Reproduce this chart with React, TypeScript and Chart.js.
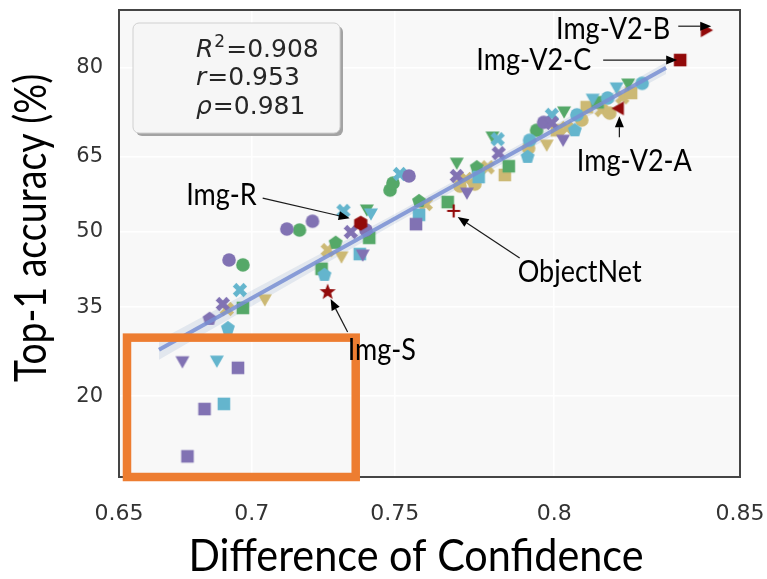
import React, { useEffect, useRef } from 'react';
import { Chart, LinearScale, registerables } from 'chart.js';

// ---------------- data ----------------
type Marker = 'circle' | 'square' | 'triDown' | 'x' | 'pentagon' | 'hexagon' | 'star' | 'plus' | 'triLeft' | 'triRight';
type Pt = [number, number, Marker];

const xTicks = [0.65, 0.7, 0.75, 0.8, 0.85];
const xTickLabels = ['0.65', '0.7', '0.75', '0.8', '0.85'];
const yTicks = [20, 35, 50, 65, 80];
const yTickLabels = ['20', '35', '50', '65', '80'];
const xRange = [0.65, 0.85];
const yRange = [10.45, 87.25];

// [difference of confidence, top-1 accuracy %, marker]
const purplePoints: Pt[] = [
  [0.6845, 32.8, 'pentagon'], [0.6894, 35.6, 'x'], [0.6917, 44.3, 'circle'],
  [0.6743, 25.3, 'triDown'], [0.695, 24.3, 'square'], [0.6826, 18.2, 'square'],
  [0.6762, 12.5, 'square'], [0.7127, 50.6, 'circle'], [0.7218, 52.2, 'circle'],
  [0.7351, 50.0, 'x'], [0.7403, 50.4, 'circle'], [0.7392, 45.3, 'triDown'],
  [0.7547, 61.3, 'circle'], [0.757, 51.6, 'square'], [0.7702, 61.3, 'x'],
  [0.7734, 57.9, 'triDown'], [0.7833, 65.7, 'x'], [0.7969, 71.3, 'circle'],
  [0.7993, 71.2, 'x'], [0.8026, 68.1, 'triDown'],
];
const cyanPoints: Pt[] = [
  [0.6913, 31.1, 'pentagon'], [0.6957, 38.3, 'x'], [0.6872, 25.4, 'triDown'],
  [0.6898, 18.9, 'square'], [0.7326, 54.3, 'x'], [0.742, 53.7, 'triDown'],
  [0.7382, 45.5, 'square'], [0.726, 41.3, 'pentagon'], [0.7517, 61.7, 'x'],
  [0.758, 53.5, 'square'], [0.7771, 61.1, 'square'], [0.783, 68.3, 'x'],
  [0.7921, 65.0, 'pentagon'], [0.7927, 68.1, 'circle'], [0.7993, 72.6, 'x'],
  [0.806, 69.9, 'pentagon'], [0.8066, 72.6, 'circle'], [0.8111, 75.2, 'triDown'],
  [0.8153, 75.4, 'circle'], [0.8178, 77.0, 'triDown'], [0.8248, 77.7, 'circle'],
];
const greenPoints: Pt[] = [
  [0.6968, 34.85, 'square'], [0.6968, 43.3, 'circle'], [0.7172, 50.4, 'circle'],
  [0.7406, 54.5, 'triDown'], [0.7414, 48.8, 'square'], [0.7299, 47.8, 'pentagon'],
  [0.725, 42.5, 'square'], [0.7484, 58.5, 'circle'], [0.7494, 59.9, 'circle'],
  [0.758, 56.3, 'pentagon'], [0.7673, 56.1, 'square'], [0.7702, 63.8, 'triDown'],
  [0.7765, 63.0, 'pentagon'], [0.7814, 68.7, 'triDown'], [0.7864, 63.2, 'square'],
  [0.7948, 69.9, 'circle'], [0.8029, 73.1, 'triDown'], [0.8125, 74.7, 'square'],
  [0.821, 77.6, 'triDown'],
];
const tanPoints: Pt[] = [
  [0.6909, 34.65, 'x'], [0.7048, 36.4, 'triDown'], [0.7271, 46.3, 'x'],
  [0.7319, 44.9, 'triDown'], [0.7602, 55.7, 'x'], [0.7731, 60.7, 'x'],
  [0.7712, 59.3, 'circle'], [0.7759, 59.7, 'circle'], [0.7799, 63.0, 'x'],
  [0.7852, 61.5, 'square'], [0.7924, 66.65, 'circle'], [0.7978, 67.2, 'triDown'],
  [0.8008, 69.9, 'square'], [0.8037, 70.3, 'x'], [0.808, 71.7, 'circle'],
  [0.8094, 73.9, 'square'], [0.8136, 73.4, 'x'], [0.8159, 72.9, 'circle'],
  [0.8194, 75.5, 'x'], [0.8218, 76.2, 'square'],
];

// distribution-shift test sets, highlighted in dark red
const shiftNames = ['Img-V2-A', 'Img-V2-B', 'Img-V2-C', 'Img-R', 'ObjectNet', 'Img-S'];
const shiftX = [0.8183, 0.8416, 0.8349, 0.7385, 0.7692, 0.7271];
const shiftY = [73.7, 84.96, 81.1, 51.8, 54.3, 37.9];
const shiftMarker: Marker[] = ['triLeft', 'triRight', 'square', 'hexagon', 'plus', 'star'];

// least-squares fit in probit space and its confidence band
const fitX = [0.6654, 0.8312];
const fitY = [27.3, 80.0];
const bandX = [0.6654, 0.7, 0.75, 0.8, 0.8312];
const bandLow = [25.62, 35.17, 51.7, 69.04, 79.13];
const bandHigh = [28.95, 38.19, 53.69, 70.78, 80.81];

const statLines: [string, string, string][] = [
  ['R', '2', '=0.908'],
  ['r', '', '=0.953'],
  ['\u03c1', '', '=0.981'],
];

const highlightX = [0.6531, 0.7368];
const highlightY = [10.45, 29.4];

// ---------------- probit axis ----------------
function probit(p: number): number {
  const a = [-39.69683028665376, 220.9460984245205, -275.9285104469687, 138.357751867269, -30.66479806614716, 2.506628277459239];
  const b = [-54.47609879822406, 161.5858368580409, -155.6989798598866, 66.80131188771972, -13.28068155288572];
  const c = [-0.007784894002430293, -0.3223964580411365, -2.400758277161838, -2.549732539343734, 4.374664141464968, 2.938163982698783];
  const d = [0.007784695709041462, 0.3224671290700398, 2.445134137142996, 3.754408661907416];
  const pl = 0.02425;
  if (p < pl) {
    const q = Math.sqrt(-2 * Math.log(p));
    return (((((c[0] * q + c[1]) * q + c[2]) * q + c[3]) * q + c[4]) * q + c[5]) / ((((d[0] * q + d[1]) * q + d[2]) * q + d[3]) * q + 1);
  }
  if (p <= 1 - pl) {
    const q = p - 0.5;
    const r = q * q;
    return ((((((a[0] * r + a[1]) * r + a[2]) * r + a[3]) * r + a[4]) * r + a[5]) * q) / (((((b[0] * r + b[1]) * r + b[2]) * r + b[3]) * r + b[4]) * r + 1);
  }
  const q = Math.sqrt(-2 * Math.log(1 - p));
  return -(((((c[0] * q + c[1]) * q + c[2]) * q + c[3]) * q + c[4]) * q + c[5]) / ((((d[0] * q + d[1]) * q + d[2]) * q + d[3]) * q + 1);
}

function normCdf(z: number): number {
  const x = Math.abs(z) / Math.SQRT2;
  const t = 1 / (1 + 0.3275911 * x);
  const y = 1 - ((((1.061405429 * t - 1.453152027) * t + 1.421413741) * t - 0.284496736) * t + 0.254829592) * t * Math.exp(-x * x);
  return z >= 0 ? 0.5 * (1 + y) : 0.5 * (1 - y);
}

class ProbitScale extends LinearScale {
  static id = 'probit';
  _z0 = 0;
  _zr = 1;
  unit(v: number) {
    return (this.options as any).percent ? v / 100 : v;
  }
  configure() {
    super.configure();
    const a = probit(this.unit(this.min));
    const b = probit(this.unit(this.max));
    this._z0 = a;
    this._zr = b - a;
  }
  getPixelForValue(value: number) {
    if (value === null || value === undefined || isNaN(value)) return NaN;
    return this.getPixelForDecimal((probit(this.unit(value)) - this._z0) / this._zr);
  }
  getValueForPixel(pixel: number) {
    const p = normCdf(this._z0 + this.getDecimalForPixel(pixel) * this._zr);
    return (this.options as any).percent ? p * 100 : p;
  }
}

Chart.register(...registerables, ProbitScale as any);

// ---------------- markers ----------------
const COLORS = {
  purple: '#8172B3',
  cyan: '#64B5CD',
  green: '#55A868',
  tan: '#CCB974',
  red: '#920A0A',
};

const markerCache = new Map<string, HTMLCanvasElement>();

function polygon(g: CanvasRenderingContext2D, pts: number[][]) {
  g.moveTo(pts[0][0], pts[0][1]);
  for (let i = 1; i < pts.length; i++) g.lineTo(pts[i][0], pts[i][1]);
  g.closePath();
}

function regular(n: number, r: number, start: number) {
  const pts: number[][] = [];
  for (let k = 0; k < n; k++) {
    const a = start + (k * 2 * Math.PI) / n;
    pts.push([r * Math.cos(a), r * Math.sin(a)]);
  }
  return pts;
}

function marker(shape: Marker, color: string): HTMLCanvasElement {
  const key = shape + color;
  const hit = markerCache.get(key);
  if (hit) return hit;
  const size = 22;
  const cv = document.createElement('canvas');
  cv.width = size;
  cv.height = size;
  const g = cv.getContext('2d')!;
  g.translate(size / 2, size / 2);
  g.fillStyle = color;
  g.strokeStyle = color;
  g.beginPath();
  switch (shape) {
    case 'circle':
      g.arc(0, 0, 6.8, 0, Math.PI * 2);
      break;
    case 'square':
      g.rect(-6.3, -6.3, 12.6, 12.6);
      break;
    case 'triDown':
      polygon(g, [[-7, -5.5], [7, -5.5], [0, 6.8]]);
      break;
    case 'triLeft':
      polygon(g, [[5.5, -7], [5.5, 7], [-6.8, 0]]);
      break;
    case 'triRight':
      polygon(g, [[-5.5, -7], [-5.5, 7], [6.8, 0]]);
      break;
    case 'pentagon':
      polygon(g, regular(5, 7.3, -Math.PI / 2));
      break;
    case 'hexagon':
      polygon(g, regular(6, 7.6, -Math.PI / 2));
      break;
    case 'star': {
      const pts: number[][] = [];
      for (let k = 0; k < 10; k++) {
        const r = k % 2 === 0 ? 8.5 : 3.6;
        const a = -Math.PI / 2 + (k * Math.PI) / 5;
        pts.push([r * Math.cos(a), r * Math.sin(a)]);
      }
      polygon(g, pts);
      break;
    }
    case 'x': {
      const L = 7.6;
      const w = 2.5;
      g.rotate(Math.PI / 4);
      polygon(g, [[-w, -L], [w, -L], [w, -w], [L, -w], [L, w], [w, w], [w, L], [-w, L], [-w, w], [-L, w], [-L, -w], [-w, -w]]);
      break;
    }
    case 'plus':
      break;
  }
  if (shape === 'plus') {
    g.lineWidth = 2.2;
    g.moveTo(-6.5, 0);
    g.lineTo(6.5, 0);
    g.moveTo(0, -6.5);
    g.lineTo(0, 6.5);
    g.stroke();
  } else {
    g.fill();
  }
  markerCache.set(key, cv);
  return cv;
}

function groupDataset(label: string, pts: Pt[], color: string) {
  return {
    type: 'scatter' as const,
    label,
    data: pts.map((p) => ({ x: p[0], y: p[1] })),
    pointStyle: pts.map((p) => marker(p[2], color)),
    pointRadius: 7,
    backgroundColor: color,
    borderColor: color,
    order: 10,
  };
}

// ---------------- drawing helpers ----------------
const TITLE_FONT = 'Lato, "Open Sans", sans-serif';

function squeezedText(ctx: CanvasRenderingContext2D, text: string, x: number, y: number, align: CanvasTextAlign, squeeze: number) {
  ctx.save();
  ctx.translate(x, y);
  ctx.scale(squeeze, 1);
  ctx.textAlign = align;
  ctx.fillText(text, 0, 0);
  ctx.restore();
}

function arrow(ctx: CanvasRenderingContext2D, x0: number, y0: number, x1: number, y1: number) {
  const ang = Math.atan2(y1 - y0, x1 - x0);
  const head = 11;
  const half = 4.5;
  const bx = x1 - head * Math.cos(ang);
  const by = y1 - head * Math.sin(ang);
  ctx.save();
  ctx.strokeStyle = '#1a1a1a';
  ctx.fillStyle = '#000';
  ctx.lineWidth = 1.2;
  ctx.beginPath();
  ctx.moveTo(x0, y0);
  ctx.lineTo(bx, by);
  ctx.stroke();
  ctx.beginPath();
  ctx.moveTo(x1, y1);
  ctx.lineTo(bx + half * Math.sin(ang), by - half * Math.cos(ang));
  ctx.lineTo(bx - half * Math.sin(ang), by + half * Math.cos(ang));
  ctx.closePath();
  ctx.fill();
  ctx.restore();
}

// label placement around each highlighted point: text offset/alignment and arrow start/end offsets
const callouts: Record<string, { text: [number, number, CanvasTextAlign]; arrow: [number, number, number, number] }> = {
  'Img-V2-A': { text: [16, 53, 'center'], arrow: [1, 29, 1, 8] },
  'Img-V2-B': { text: [-36, -1, 'right'], arrow: [-28, -4, 5, -4] },
  'Img-V2-C': { text: [-89, 0, 'right'], arrow: [-77, 0, -3, 0] },
  'Img-R': { text: [-104, -28, 'right'], arrow: [-98, -25, -11, -5] },
  ObjectNet: { text: [126, 61, 'center'], arrow: [66, 47, 4, 6] },
  'Img-S': { text: [20, 58, 'left'], arrow: [20, 40, 3, 7] },
};

const panelBackground = {
  id: 'panelBackground',
  beforeDraw(chart: any) {
    const { ctx, chartArea: a } = chart;
    ctx.save();
    ctx.fillStyle = '#f8f8f8';
    ctx.fillRect(a.left, a.top, a.right - a.left, a.bottom - a.top);
    ctx.restore();
  },
};

const overlay = {
  id: 'overlay',
  afterDraw(chart: any) {
    const { ctx, chartArea: a } = chart;
    const xs = chart.scales.x;
    const ys = chart.scales.y;
    ctx.save();

    // frame
    ctx.strokeStyle = '#454545';
    ctx.lineWidth = 2;
    ctx.strokeRect(a.left, a.top, a.right - a.left, a.bottom - a.top);

    // highlight box around the low-accuracy models
    const hx0 = xs.getPixelForValue(highlightX[0]);
    const hx1 = xs.getPixelForValue(highlightX[1]);
    const hy0 = ys.getPixelForValue(highlightY[1]);
    const hy1 = ys.getPixelForValue(highlightY[0]);
    ctx.strokeStyle = '#ED7D31';
    ctx.lineWidth = 8.5;
    ctx.strokeRect(hx0, hy0, hx1 - hx0, hy1 - hy0);

    // statistics box
    const bx = 133, by = 23, bw = 207, bh = 110;
    ctx.fillStyle = '#a3a3a3';
    ctx.beginPath();
    ctx.roundRect(bx + 3, by + 3, bw, bh, 6);
    ctx.fill();
    ctx.fillStyle = '#f6f6f6';
    ctx.strokeStyle = '#d0d0d0';
    ctx.lineWidth = 1;
    ctx.beginPath();
    ctx.roundRect(bx, by, bw, bh, 6);
    ctx.fill();
    ctx.stroke();

    ctx.fillStyle = '#262626';
    ctx.textBaseline = 'alphabetic';
    ctx.textAlign = 'left';
    const baselines = [56.5, 85, 113.5];
    statLines.forEach((ln, i) => {
      let x = 196;
      const y = baselines[i];
      ctx.font = 'oblique 25px "DejaVu Sans"';
      ctx.fillText(ln[0], x, y);
      x += ctx.measureText(ln[0]).width + 1;
      if (ln[1]) {
        ctx.font = '17px "DejaVu Sans"';
        ctx.fillText(ln[1], x, y - 10);
        x += ctx.measureText(ln[1]).width + 1;
      }
      ctx.font = '25px "DejaVu Sans"';
      ctx.fillText(ln[2], x, y);
    });

    // callouts for the distribution-shift datasets
    ctx.fillStyle = '#000';
    ctx.font = `30px ${TITLE_FONT}`;
    ctx.textBaseline = 'middle';
    shiftNames.forEach((name, i) => {
      const px = xs.getPixelForValue(shiftX[i]);
      const py = ys.getPixelForValue(shiftY[i]);
      const c = callouts[name];
      arrow(ctx, px + c.arrow[0], py + c.arrow[1], px + c.arrow[2], py + c.arrow[3]);
      squeezedText(ctx, name, px + c.text[0], py + c.text[1], c.text[2], 0.9);
    });

    // axis titles
    ctx.font = `44px ${TITLE_FONT}`;
    ctx.textBaseline = 'alphabetic';
    squeezedText(ctx, 'Difference of Confidence', 416, 571, 'center', 0.94);
    ctx.save();
    ctx.translate(46, 228);
    ctx.rotate(-Math.PI / 2);
    squeezedText(ctx, 'Top-1 accuracy (%)', 0, 0, 'center', 0.85);
    ctx.restore();

    ctx.restore();
  },
};

export default function App() {
  const ref = useRef<HTMLCanvasElement>(null);

  useEffect(() => {
    if (!ref.current) return;
    const shiftStyles = shiftMarker.map((m) => marker(m, COLORS.red));
    const chart = new Chart(ref.current, {
      type: 'scatter',
      data: {
        datasets: [
          {
            type: 'line',
            label: 'band-low',
            data: bandX.map((x, i) => ({ x, y: bandLow[i] })),
            borderWidth: 0,
            pointRadius: 0,
            fill: false,
            order: 30,
          },
          {
            type: 'line',
            label: 'band-high',
            data: bandX.map((x, i) => ({ x, y: bandHigh[i] })),
            borderWidth: 0,
            pointRadius: 0,
            fill: '-1',
            backgroundColor: 'rgba(76, 114, 176, 0.12)',
            order: 29,
          },
          groupDataset('purple', purplePoints, COLORS.purple),
          groupDataset('cyan', cyanPoints, COLORS.cyan),
          groupDataset('green', greenPoints, COLORS.green),
          groupDataset('tan', tanPoints, COLORS.tan),
          {
            type: 'line',
            label: 'fit',
            data: fitX.map((x, i) => ({ x, y: fitY[i] })),
            borderColor: 'rgba(120, 142, 210, 0.85)',
            borderWidth: 4,
            pointRadius: 0,
            fill: false,
            order: 5,
          },
          {
            type: 'scatter',
            label: 'shift',
            data: shiftX.map((x, i) => ({ x, y: shiftY[i] })),
            pointStyle: shiftStyles,
            pointRadius: 8,
            backgroundColor: COLORS.red,
            order: 1,
          },
        ] as any,
      },
      options: {
        responsive: false,
        animation: false,
        events: [],
        layout: { padding: { top: 10, right: 27, bottom: 0, left: 0 } },
        plugins: { legend: { display: false }, tooltip: { enabled: false } },
        scales: {
          x: {
            type: 'probit' as any,
            min: xRange[0],
            max: xRange[1],
            bounds: 'data',
            afterBuildTicks: (axis: any) => {
              axis.ticks = xTicks.map((v) => ({ value: v }));
            },
            afterFit: (s: any) => {
              s.height = 102;
              s.paddingLeft = 0;
              s.paddingRight = 0;
            },
            ticks: {
              autoSkip: false,
              maxRotation: 0,
              padding: 24,
              color: '#333',
              font: { family: '"DejaVu Sans"', size: 22 },
              callback: (_v: any, i: number) => xTickLabels[i],
            },
            grid: { color: '#ffffff', lineWidth: 1.5, drawTicks: false },
            border: { display: false },
          } as any,
          y: {
            type: 'probit' as any,
            percent: true,
            min: yRange[0],
            max: yRange[1],
            bounds: 'data',
            afterBuildTicks: (axis: any) => {
              axis.ticks = yTicks.map((v) => ({ value: v }));
            },
            afterFit: (s: any) => {
              s.width = 119;
              s.paddingTop = 0;
              s.paddingBottom = 0;
            },
            ticks: {
              autoSkip: false,
              padding: 16,
              color: '#333',
              font: { family: '"DejaVu Sans"', size: 21 },
              callback: (_v: any, i: number) => yTickLabels[i],
            },
            grid: { color: '#ffffff', lineWidth: 1.5, drawTicks: false },
            border: { display: false },
          } as any,
        },
      },
      plugins: [panelBackground, overlay],
    });
    return () => chart.destroy();
  }, []);

  return (
    <div style={{ position: 'absolute', left: 0, top: 0, width: 767, height: 579, background: '#fff' }}>
      <canvas ref={ref} width={767} height={579} style={{ display: 'block' }} />
    </div>
  );
}
